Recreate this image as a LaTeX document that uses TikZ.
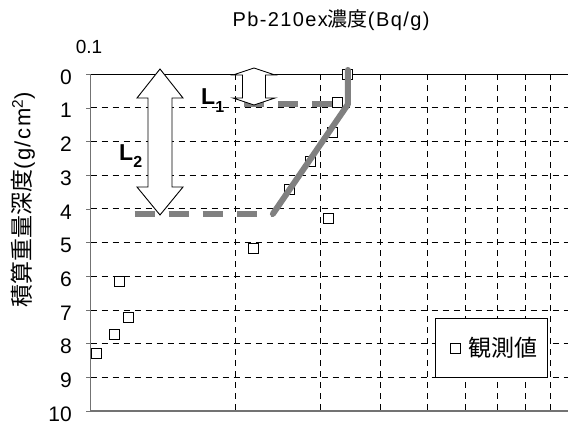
\documentclass[tikz,border=0pt]{standalone}
\usepackage{fontspec}
\setmainfont{Liberation Sans}
\newfontfamily\jpfont{Noto Sans CJK JP}
\newfontfamily\spacedfont[LetterSpace=7]{Liberation Sans}
\definecolor{modelgray}{gray}{0.5}
\definecolor{axisgray}{gray}{0.45}

\begin{document}
\begin{tikzpicture}[x=1pt,y=-1pt,
	gridline/.style={dash pattern=on 6pt off 5pt,line width=0.8pt},
	obs/.style={rectangle,draw,fill=white,minimum size=10pt,inner sep=0pt,line width=0.9pt},
	model/.style={modelgray,line width=6pt},
	arrowbox/.style={draw,fill=white,line width=0.9pt}]
	\useasboundingbox (0,0) rectangle (568,424);
	
	% title and axis labels
	\node (title) at (331,20) {\fontsize{20}{22}\selectfont\spacedfont Pb-210ex{\jpfont 濃度}(Bq/g)};
	\node (xmin) at (89,47) {\fontsize{19}{21}\selectfont 0.1};
	\node (ylabel) [rotate=90] at (23,200) {\fontsize{22}{24}\selectfont{\jpfont\fontsize{23}{25}\selectfont 積算重量深度}{\spacedfont (g/cm\textsuperscript{2})}};
	
	\begin{scope}[shift={(90.5,74)},x=482pt,y=-33.7pt]
		% draw grid
		\foreach \y in {1,...,9}
		{
			\draw[gridline] (0,\y) -- (1,\y);
		}
		\foreach \v in {2,...,9}
		{
			\draw[gridline] ({log10(\v)},0) -- ({log10(\v)},10);
		}
		
		% draw frame
		\draw[axisgray,line width=1pt] (0,0) -- (0,10);
		\draw[axisgray,line width=1.5pt] (0,10) -- (1,10);
		\draw[line width=1pt] (0,0) -- (1,0);
		
		% depth ticks
		\foreach \y in {0,...,10}
		{
			\draw[axisgray] (0,\y) -- ++(-5pt,0pt);
			\node[anchor=east,inner sep=0pt,font=\fontsize{21}{23}\selectfont] (depth-\y) at ([xshift=-18.5pt,yshift=-3pt]0,\y) {\y};
		}
		
		% draw measured values
		\foreach \v/\d [count=\i] in {0.342/0, 0.325/0.83, 0.318/1.72, 0.286/2.58, 0.259/3.44, 0.312/4.30, 0.218/5.19, 0.115/6.17, 0.120/7.21, 0.112/7.74, 0.103/8.28}
		{
			\node (obs-\i) at ({log10(\v)+1},\d) [obs] {};
		}
		
		% draw model line
		\draw[model,dash pattern=on 20pt off 14pt] ({log10(0.2083)+1},0.9) -- ({log10(0.342)+1},0.9);
		\draw[model,dash pattern=on 20pt off 14pt] ({log10(0.1235)+1},4.15) -- ({log10(0.239)+1},4.15);
		\draw[model,line cap=round,line join=round] ({log10(0.342)+1},-0.12) -- ({log10(0.342)+1},0.9) -- ({log10(0.239)+1},4.15);
	\end{scope}
	
	% draw L1 arrow
	\draw[arrowbox] (254,68) -- (275,75) -- (265.5,75) -- (265.5,98) -- (275,98) -- (254,105) -- (233,98) -- (242.5,98) -- (242.5,75) -- (233,75) -- cycle;
	\node (l1) [anchor=base west,inner sep=0pt] at (201,104) {\fontsize{23}{25}\selectfont\bfseries L\raisebox{-8pt}{\fontsize{16}{18}\selectfont 1}};
	
	% draw L2 arrow
	\draw[arrowbox] (160,69) -- (183,98) -- (172,98) -- (172,187) -- (183,187) -- (160,215) -- (137,187) -- (148,187) -- (148,98) -- (137,98) -- cycle;
	\node (l2) [anchor=base west,inner sep=0pt] at (119,160) {\fontsize{23}{25}\selectfont\bfseries L\raisebox{-7pt}{\fontsize{16}{18}\selectfont 2}};
	
	% draw legend
	\node (legend) at (491,347.5) [rectangle,draw,fill=white,line width=0.9pt,minimum width=112pt,minimum height=59pt] {};
	\node (legend-mark) at (455,348) [obs] {};
	\node (legend-text) [anchor=west] at (465,348) {\fontsize{23}{25}\selectfont\jpfont 観測値};
\end{tikzpicture}
\end{document}
